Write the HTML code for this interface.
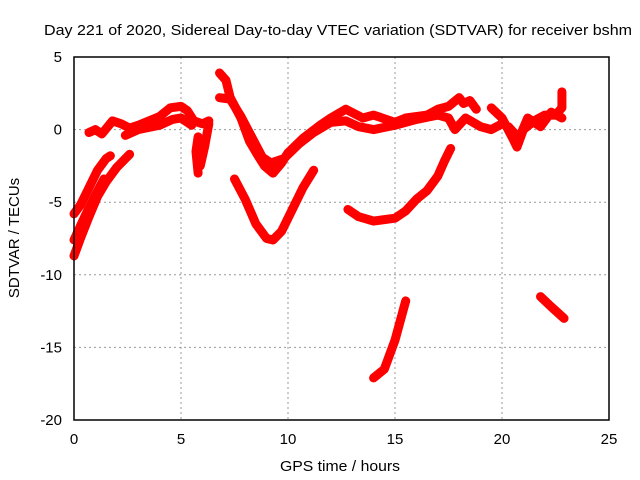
<!DOCTYPE html>
<html><head><meta charset="utf-8"><style>
body{margin:0;background:#fff;}
svg{display:block;font-family:"Liberation Sans",sans-serif;}
</style></head><body>
<svg id="chart" width="640" height="480" xmlns="http://www.w3.org/2000/svg">
<rect width="640" height="480" fill="#fff"/>
<text x="44" y="35" font-size="15" textLength="588" lengthAdjust="spacingAndGlyphs">Day 221 of 2020, Sidereal Day-to-day VTEC variation (SDTVAR) for receiver bshm</text>
<text x="280" y="471" font-size="15" textLength="120" lengthAdjust="spacingAndGlyphs">GPS time / hours</text>
<text x="19" y="238" font-size="15" text-anchor="middle" transform="rotate(-90 19 238)">SDTVAR / TECUs</text>
<g id="grid"></g>
<g id="ticks"></g>
<g id="series"></g>
<rect x="74" y="57" width="535" height="363" fill="none" stroke="#000" stroke-width="1.5"/>
</svg>
<script>
const xTicks=[0,5,10,15,20,25];
const yTicks=[5,0,-5,-10,-15,-20];
const track1=[[0,-5.8],[0.3,-5.2],[0.7,-4],[1.1,-2.8],[1.5,-2],[1.7,-1.8]];
const track2=[[0,-8.7],[0.3,-7.5],[0.7,-6],[1.1,-4.6],[1.5,-3.6],[2,-2.6],[2.6,-1.7]];
const track3=[[0,-7.6],[0.5,-6],[1,-4.5],[1.4,-3.4]];
const track4=[[0.7,-0.2],[1,0],[1.3,-0.3],[1.8,0.6],[2.2,0.4],[2.6,0.1],[3,0.3],[3.5,0.6],[4,0.9],[4.5,1.5],[5,1.6],[5.3,1.3],[5.6,0.6],[6,0.4],[6.3,0.6]];
const track5=[[2.4,-0.4],[3,0],[4,0.3],[4.6,0.7],[5,0.8],[5.5,0.3]];
const track6=[[5.8,-0.5],[5.7,-1.5],[5.8,-3]];
const track7=[[6.3,0.4],[6.1,-1.2],[5.9,-2.5]];
const track8=[[6.8,3.9],[7.1,3.4],[7.3,2.2],[7.8,0.8],[8.2,-0.8],[8.6,-1.8],[8.9,-2.5],[9.3,-3],[9.7,-2.3],[10,-1.6],[10.7,-0.6],[11.5,0.3],[12,0.8],[12.7,1.4]];
const track9=[[6.8,2.2],[7.3,2.1],[7.8,0.9],[8.3,-0.5],[8.8,-1.9],[9.2,-2.3],[9.8,-2],[10.5,-1],[11.2,-0.2],[12,0.5],[12.7,0.6]];
const track10=[[12.7,1.4],[13.5,0.8],[14,1],[15,0.5],[15.5,0.8],[16.5,1],[17,1.4],[17.5,1.6],[18,2.2],[18.2,1.8],[18.5,2],[18.8,1.4]];
const track11=[[12.7,0.6],[13.3,0.2],[14,0],[15,0.3],[16,0.7],[17,1],[17.5,0.8],[17.8,0],[18.3,0.8],[19,0.2],[19.5,0],[20,0.4]];
const track12=[[19.5,1.5],[20,0.8],[20.5,-0.6],[20.7,-1.2],[21,0],[21.5,0.6],[22,1],[22.5,1],[22.8,1.5],[22.8,2.6]];
const track13=[[20.3,0.2],[20.8,-0.6],[21.2,0.8],[21.8,0.2],[22.3,1.2],[22.8,0.8]];
const track14=[[7.5,-3.4],[8,-4.8],[8.5,-6.5],[9,-7.5],[9.3,-7.6],[9.7,-7],[10.2,-5.5],[10.7,-4],[11.2,-2.8]];
const track15=[[12.8,-5.5],[13.3,-6],[14,-6.3],[15,-6.1],[15.5,-5.6],[16,-4.8],[16.5,-4.2],[17,-3.2],[17.3,-2.2],[17.6,-1.3]];
const track16=[[14,-17.1],[14.5,-16.5],[15,-14.5],[15.5,-11.8]];
const track17=[[21.8,-11.5],[22.3,-12.2],[22.9,-13]];
const tracks=[track1,track2,track3,track4,track5,track6,track7,track8,track9,track10,track11,track12,track13,track14,track15,track16,track17];
const NS="http://www.w3.org/2000/svg";
function xs(v){return 74+(v-0)/25*535;}
function ys(v){return 420-(v+20)/25*363;}
const grid=document.getElementById('grid'),ticks=document.getElementById('ticks'),ser=document.getElementById('series');
function mk(tag,attrs,parent){const e=document.createElementNS(NS,tag);for(const k in attrs)e.setAttribute(k,attrs[k]);parent.appendChild(e);return e;}
xTicks.forEach(t=>{
  const x=xs(t);
  if(t>0&&t<25){const g=mk('line',{x1:x,x2:x,y1:57,y2:420,stroke:'#999','stroke-dasharray':'2,3'},grid);
  
  }
  const l=mk('text',{x:x,y:444,'font-size':15,'text-anchor':'middle'},ticks);l.textContent=t;
  
  
});
yTicks.forEach(t=>{
  const y=ys(t);
  if(t>-20&&t<5){const g=mk('line',{x1:74,x2:609,y1:y,y2:y,stroke:'#999','stroke-dasharray':'2,3'},grid);
  
  }
  const l=mk('text',{x:62,y:y+5,'font-size':15,'text-anchor':'end'},ticks);l.textContent=t;
  
  
});
tracks.forEach((tr,i)=>{
  const p=mk('polyline',{points:tr.map(d=>xs(d[0])+','+ys(d[1])).join(' '),fill:'none',stroke:'#f00','stroke-width':9,'stroke-linejoin':'round','stroke-linecap':'round'},ser);
  
  
});
</script>
</body></html>
